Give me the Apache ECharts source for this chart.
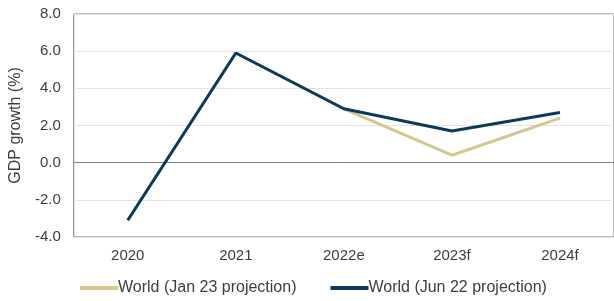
<!DOCTYPE html>
<html>
<head>
<meta charset="utf-8">
<script src="https://cdn.jsdelivr.net/npm/echarts@6/dist/echarts.min.js"></script>
<style>
  html, body { margin: 0; padding: 0; background: #fff; }
  #chart { width: 614px; height: 301px; }
</style>
</head>
<body>
<div id="chart"></div>
<script>
// categories + values
var years = ['2020', '2021', '2022e', '2023f', '2024f'];
var jan23 = [-3.1, 5.9, 2.9, 0.4, 2.4]; // World (Jan 23 projection)
var jun22 = [-3.1, 5.9, 2.9, 1.7, 2.7]; // World (Jun 22 projection)
var yTicks = { min: -4, max: 8, step: 2 };

var font = 'Liberation Sans, Arial, sans-serif';
var txt = '#3d3d3d';
var myChart = echarts.init(document.getElementById('chart'));

var option = {
    animation: false,
    grid: {
        left: 73,
        top: 14,
        bottom: 64,
        width: 545,
        show: true,
        borderColor: '#7f7f7f',
        borderWidth: 1
    },
    legend: {
        top: 280,
        left: 80,
        padding: 0,
        itemWidth: 38,
        itemHeight: 4,
        itemGap: 34,
        icon: 'rect',
        textStyle: { fontFamily: font, fontSize: 16, color: txt, padding: [0, 0, 0, -5] },
        data: ['World (Jan 23 projection)', 'World (Jun 22 projection)']
    },
    xAxis: [{
        // labels along the bottom
        type: 'category',
        data: years,
        axisLine: { show: false, onZero: false },
        axisTick: { show: false },
        axisLabel: { fontFamily: font, fontSize: 15, color: txt, margin: 11 }
    }, {
        // zero line, ticks on the category boundaries
        type: 'category',
        data: years,
        axisLine: { onZero: true, lineStyle: { color: '#7f7f7f', width: 1 } },
        axisTick: { length: 3, lineStyle: { color: '#7f7f7f' } },
        axisLabel: { show: false }
    }, {
        // ticks under each point
        type: 'category',
        data: years,
        axisLine: { show: false, onZero: true },
        axisTick: { alignWithLabel: true, length: 3, lineStyle: { color: '#7f7f7f' } },
        axisLabel: { show: false }
    }],
    yAxis: {
        type: 'value',
        min: yTicks.min,
        max: yTicks.max,
        interval: yTicks.step,
        name: 'GDP growth (%)',
        nameLocation: 'middle',
        nameGap: 47,
        nameTextStyle: { fontFamily: font, fontSize: 16, color: txt },
        axisLine: { show: false },
        axisTick: { show: false },
        axisLabel: {
            fontFamily: font, fontSize: 15, color: txt, margin: 13,
            formatter: function(v) { return v.toFixed(1); }
        },
        splitLine: { lineStyle: { color: '#e3e3e3', width: 1 } }
    },
    series: [{
        name: 'World (Jan 23 projection)',
        type: 'line',
        data: jan23,
        symbol: 'none',
        color: '#d6c792',
        lineStyle: { width: 3, color: '#d6c792' }
    }, {
        name: 'World (Jun 22 projection)',
        type: 'line',
        data: jun22,
        symbol: 'none',
        color: '#0b3b5c',
        lineStyle: { width: 3, color: '#0b3b5c' }
    }]
};
myChart.setOption(option);
</script>
</body>
</html>
